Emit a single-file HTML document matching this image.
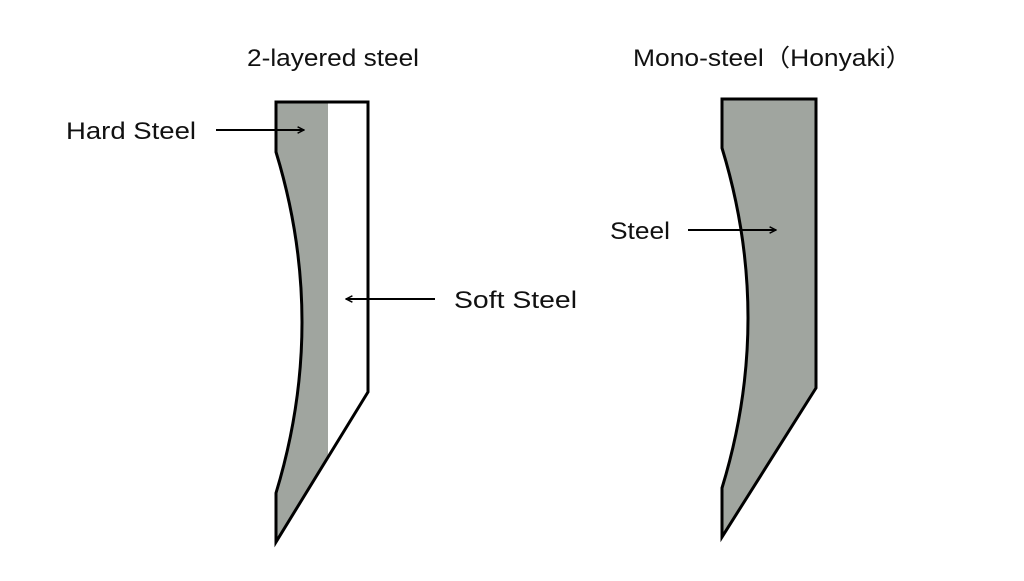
<!DOCTYPE html>
<html><head><style>body{margin:0;background:#fff}</style></head><body>
<svg width="1024" height="576" viewBox="0 0 1024 576" xmlns="http://www.w3.org/2000/svg" font-family="Liberation Sans, sans-serif" font-size="24" fill="#111">
<defs><marker id="a" viewBox="0 0 10 10" refX="9" refY="5" markerWidth="8" markerHeight="8" orient="auto" markerUnits="userSpaceOnUse"><path d="M1 1 L9 5 L1 9" fill="none" stroke="#000" stroke-width="1.8"/></marker></defs>
<path d="M276 102 L328 102 L328 457 L276 542 L276 493 Q328 322 276 152 Z" fill="#a0a59f"/>
<path d="M276 102 L368 102 L368 392 L276 542 L276 493 Q328 322 276 152 Z" fill="none" stroke="#000" stroke-width="3"/>
<path d="M722 99 L816 99 L816 388 L722 537 L722 488 Q774 318 722 148 Z" fill="#a0a59f" stroke="#000" stroke-width="3"/>
<line x1="216" y1="130" x2="304" y2="130" stroke="#000" stroke-width="2" marker-end="url(#a)"/>
<line x1="435" y1="299" x2="346" y2="299" stroke="#000" stroke-width="2" marker-end="url(#a)"/>
<line x1="688" y1="230" x2="776" y2="230" stroke="#000" stroke-width="2" marker-end="url(#a)"/>
<text x="247" y="66" textLength="172" lengthAdjust="spacingAndGlyphs">2-layered steel</text>
<text x="633" y="66" textLength="279" lengthAdjust="spacingAndGlyphs">Mono-steel（Honyaki）</text>
<text x="66" y="139" textLength="130" lengthAdjust="spacingAndGlyphs">Hard Steel</text>
<text x="454" y="308" textLength="123" lengthAdjust="spacingAndGlyphs">Soft Steel</text>
<text x="610" y="239" textLength="60" lengthAdjust="spacingAndGlyphs">Steel</text>
</svg>
</body></html>
